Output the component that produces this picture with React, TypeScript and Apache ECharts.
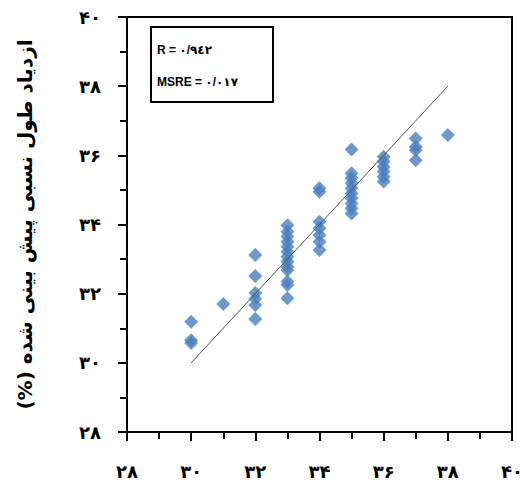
import React, { useEffect, useRef } from "react";
import * as echarts from "echarts";

const tickLabels = ["۲۸", "۳۰", "۳۲", "۳۴", "۳۶", "۳۸", "۴۰"];
const axisMin = 28;
const axisMax = 40;
const axisStep = 2;

const measured = [
  30, 30, 30,
  31,
  32, 32, 32, 32, 32, 32,
  33, 33, 33, 33, 33, 33, 33, 33, 33, 33, 33, 33, 33,
  34, 34, 34, 34, 34, 34, 34,
  35, 35, 35, 35, 35, 35, 35, 35, 35, 35,
  36, 36, 36, 36, 36, 36,
  37, 37, 37, 37,
  38,
];
const predicted = [
  31.19, 30.65, 30.57,
  31.7,
  33.12, 32.51, 32.02, 31.85, 31.67, 31.27,
  33.98, 33.79, 33.65, 33.5, 33.36, 33.21, 33.07, 32.92, 32.78, 32.68, 32.35, 32.25, 31.87,
  35.05, 34.95, 34.08, 33.89, 33.7, 33.5, 33.26,
  36.17, 35.48, 35.34, 35.19, 35.05, 34.9, 34.76, 34.61, 34.47, 34.32,
  35.96, 35.82, 35.67, 35.53, 35.38, 35.24,
  36.49, 36.25, 36.15, 35.86,
  36.59,
];
const fitLineX = [30, 38];
const fitLineY = [30, 38];

const statR = "R = ۰/۹٤۲";
const statMSRE = "MSRE = ۰/۰۱۷";
const yTitle = "ازدیاد طول نسبی پیش بینی شده (%)\u200F";

const labelFmt = (v: number) => {
  const i = Math.round((v - axisMin) / axisStep);
  return tickLabels[i] ?? "";
};

export default function App() {
  const ref = useRef<HTMLDivElement>(null);
  useEffect(() => {
    if (!ref.current) return;
    const chart = echarts.init(ref.current, null, { renderer: "svg" });
    const axisCommon = {
      type: "value" as const,
      min: axisMin,
      max: axisMax,
      interval: axisStep,
      splitLine: { show: false },
      axisLine: { show: true, lineStyle: { color: "#000", width: 2 } },
      axisTick: { show: true, inside: false, length: 9, lineStyle: { color: "#000", width: 2 } },
      minorTick: { show: true, splitNumber: 2, length: 7, lineStyle: { color: "#000", width: 2 } },
      axisLabel: {
        formatter: labelFmt,
        fontFamily: "DejaVu Sans",
        fontWeight: "bold" as const,
        fontSize: 18,
        color: "#000",
      },
    };
    chart.setOption({
      animation: false,
      backgroundColor: "#fff",
      grid: {
        left: 127,
        right: 11,
        top: 17,
        bottom: 55,
        show: true,
        borderColor: "#000",
        borderWidth: 2,
        backgroundColor: "transparent",
      },
      xAxis: {
        ...axisCommon,
        axisLabel: { ...axisCommon.axisLabel, margin: 30 },
      },
      yAxis: {
        ...axisCommon,
        axisLabel: { ...axisCommon.axisLabel, margin: 26 },
        name: yTitle,
        nameLocation: "middle",
        nameGap: 92,
        nameRotate: 90,
        nameTextStyle: {
          fontFamily: "DejaVu Sans",
          fontWeight: "bold",
          fontSize: 20,
          color: "#000",
        },
      },
      series: [
        {
          type: "line",
          data: fitLineX.map((x, i) => [x, fitLineY[i]]),
          symbol: "none",
          lineStyle: { color: "#555", width: 1 },
          z: 3,
        },
        {
          type: "scatter",
          data: measured.map((x, i) => [x, predicted[i]]),
          symbol: "diamond",
          symbolSize: 14,
          itemStyle: { color: "#4a7ebb" },
          z: 2,
        },
      ],
      graphic: [
        {
          type: "rect",
          shape: { x: 151, y: 27, width: 122, height: 75 },
          style: { fill: "#fff", stroke: "#000", lineWidth: 2 },
          z: 10,
        },
        {
          type: "text",
          x: 157,
          y: 50,
          style: {
            text: statR,
            fontFamily: "Liberation Sans, DejaVu Sans",
            fontWeight: "bold",
            fontSize: 12,
            fill: "#000",
            verticalAlign: "middle",
          },
          z: 11,
        },
        {
          type: "text",
          x: 157,
          y: 82,
          style: {
            text: statMSRE,
            fontFamily: "Liberation Sans, DejaVu Sans",
            fontWeight: "bold",
            fontSize: 12,
            fill: "#000",
            verticalAlign: "middle",
          },
          z: 11,
        },
      ],
    });
    return () => chart.dispose();
  }, []);
  return <div ref={ref} style={{ width: 526, height: 487, position: "absolute", left: 0, top: 0 }} />;
}
